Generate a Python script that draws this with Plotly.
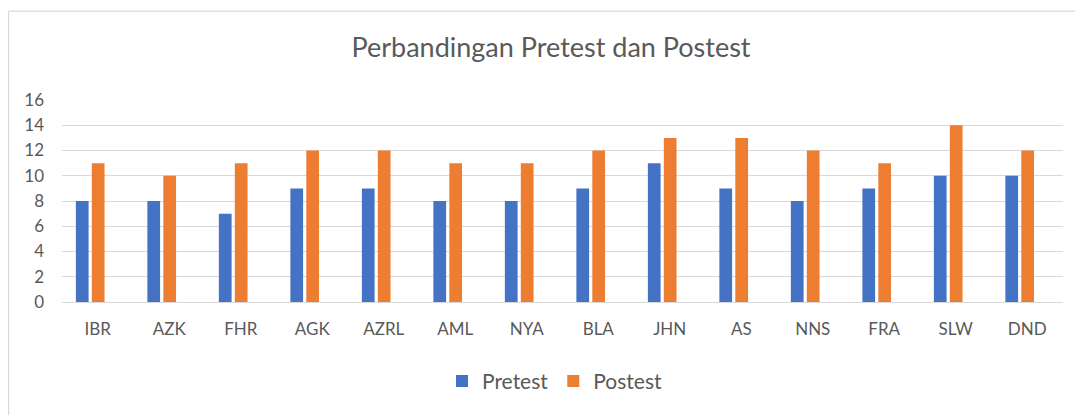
import plotly.graph_objects as go

categories = ["IBR", "AZK", "FHR", "AGK", "AZRL", "AML", "NYA", "BLA", "JHN", "AS", "NNS", "FRA", "SLW", "DND"]
pretest = [8, 8, 7, 9, 9, 8, 8, 9, 11, 9, 8, 9, 10, 10]
postest = [11, 10, 11, 12, 12, 11, 11, 12, 13, 13, 12, 11, 14, 12]
y_ticks = [0, 2, 4, 6, 8, 10, 12, 14, 16]

FONT = "Lato"
GRAY = "#595959"

fig = go.Figure()
fig.add_trace(go.Bar(
    x=categories, y=pretest, name="Pretest",
    marker=dict(color="#4472C4", line=dict(width=0)),
    width=0.178, offset=-0.306,
))
fig.add_trace(go.Bar(
    x=categories, y=postest, name="Postest",
    marker=dict(color="#ED7D31", line=dict(width=0)),
    width=0.178, offset=-0.083,
))

# chart border (left and top edges visible)
fig.add_shape(type="line", xref="paper", yref="paper",
              x0=-0.0534, x1=-0.0534, y0=-0.7, y1=1.4395,
              line=dict(color="#D9D9D9", width=1.3), layer="below")
fig.add_shape(type="line", xref="paper", yref="paper",
              x0=-0.0534, x1=1.1, y0=1.4395, y1=1.4395,
              line=dict(color="#D9D9D9", width=1.3), layer="below")

fig.update_layout(
    width=1083, height=415,
    margin=dict(l=54, r=28, t=92, b=120.5),
    paper_bgcolor="white", plot_bgcolor="white",
    font=dict(family=FONT, color=GRAY),
    title=dict(text="Perbandingan Pretest dan Postest",
               font=dict(family=FONT, size=27, color=GRAY),
               x=543/1083, xanchor="center", y=1-40/415, yanchor="middle"),
    barmode="overlay",
    showlegend=True,
    legend=dict(orientation="h", x=0.4925, xanchor="center",
                y=-0.3926, yanchor="middle",
                font=dict(family=FONT, size=21, color=GRAY),
                itemwidth=30, traceorder="normal"),
    xaxis=dict(type="category", range=[-0.5, 13.5], showgrid=False,
               showline=False, ticks="", ticklabelstandoff=15,
               tickfont=dict(family=FONT, size=17, color=GRAY)),
    yaxis=dict(range=[0, 16], tickvals=y_ticks, showgrid=True,
               gridcolor="#D9D9D9", gridwidth=1.3, zeroline=True,
               zerolinecolor="#D9D9D9", zerolinewidth=1.3, showline=False,
               ticks="", ticklabelstandoff=17,
               tickfont=dict(family=FONT, size=17, color=GRAY)),
)

fig.write_html("out.html")
